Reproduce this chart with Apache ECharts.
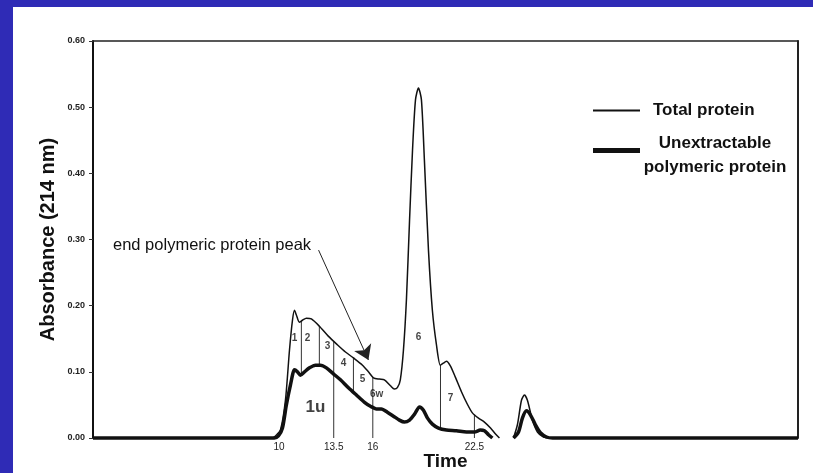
<!DOCTYPE html>
<html>
<head>
<meta charset="utf-8">
<script src="https://cdn.jsdelivr.net/npm/echarts@6/dist/echarts.min.js"></script>
<style>
    html, body { margin: 0; padding: 0; background: #2f2bb6; }
    #main { position: absolute; left: 13px; top: 7px; width: 800px; height: 466px; background: #ffffff; }
</style>
</head>
<body>
<div id="main"></div>
<script>
// total protein trace (thin line), null = break in the trace
var totalTime = [-1.9, 9.58, 9.77, 10.09, 10.41, 10.67, 10.86, 10.99, 11.11, 11.30, 11.50, 11.75, 12.07, 12.58, 13.15, 13.73, 14.25, 14.76, 15.34, 15.72, 16.04, 16.42, 16.74, 17.13, 17.38, 17.57, 17.76, 17.96, 18.15, 18.35, 18.54, 18.73, 18.92, 19.11, 19.30, 19.56, 19.81, 20.07, 20.32, 20.51, 20.71, 20.96, 21.28, 21.67, 22.05, 22.37, 22.76, 23.14, 23.53, 23.85, 24.10, 24.5, 25.00, 25.25, 25.51, 25.70, 25.89, 26.21, 26.53, 26.92, 27.37, 43.2];
var totalAbs = [0, 0, 0.003, 0.012, 0.057, 0.133, 0.178, 0.193, 0.186, 0.175, 0.178, 0.181, 0.180, 0.169, 0.154, 0.141, 0.130, 0.121, 0.110, 0.100, 0.091, 0.089, 0.088, 0.079, 0.074, 0.076, 0.088, 0.133, 0.209, 0.329, 0.435, 0.511, 0.529, 0.511, 0.420, 0.284, 0.193, 0.141, 0.110, 0.113, 0.116, 0.109, 0.092, 0.070, 0.051, 0.038, 0.030, 0.024, 0.015, 0.006, 0, null, 0, 0.020, 0.057, 0.065, 0.057, 0.027, 0.009, 0.0015, 0, 0];

// unextractable polymeric protein trace (thick line)
var polyTime = [-1.9, 9.7, 9.96, 10.22, 10.47, 10.73, 10.99, 11.18, 11.37, 11.63, 11.95, 12.33, 12.65, 13.03, 13.48, 13.93, 14.44, 14.95, 15.47, 15.85, 16.23, 16.55, 16.93, 17.32, 17.70, 18.02, 18.35, 18.67, 18.99, 19.24, 19.50, 19.81, 20.20, 20.71, 21.35, 21.99, 22.50, 22.88, 23.14, 23.40, 23.65, 24.5, 25.0, 25.32, 25.57, 25.83, 26.08, 26.40, 26.72, 27.11, 27.5, 43.2];
var polyAbs = [0, 0, 0.003, 0.015, 0.050, 0.080, 0.103, 0.100, 0.095, 0.100, 0.106, 0.110, 0.110, 0.106, 0.097, 0.088, 0.076, 0.065, 0.054, 0.048, 0.044, 0.044, 0.039, 0.033, 0.027, 0.024, 0.027, 0.036, 0.047, 0.042, 0.030, 0.021, 0.015, 0.012, 0.011, 0.009, 0.009, 0.012, 0.011, 0.005, 0, null, 0, 0.009, 0.030, 0.041, 0.035, 0.020, 0.008, 0.0015, 0, 0];

// fraction dividers
var dividerTime = [11.43, 12.58, 13.5, 14.76, 16, 20.33, 22.5];
var dividerTop = [0.177, 0.169, 0.146, 0.121, 0.092, 0.110, 0.035];
var dividerBottom = [0.096, 0.110, 0, 0.069, 0, 0.014, 0];

// fraction names
var peakNames = ["1", "2", "3", "4", "5", "6w", "1u", "6", "7"];
var peakTime = [11.0, 11.82, 13.1, 14.12, 15.34, 16.24, 12.33, 18.92, 20.97];
var peakAbs = [0.151, 0.151, 0.138, 0.113, 0.089, 0.066, 0.047, 0.153, 0.060];

var xTickValues = [10, 13.5, 16, 22.5];
var yMin = 0, yMax = 0.6, yStep = 0.1;
var xMin = -1.9, xMax = 43.2;

// arrow "end polymeric protein peak"
var arrowFrom = [12.53, 0.284];
var arrowTo = [15.72, 0.118];

chart();

function zip(a, b) {
    var out = [];
    for (var i = 0; i < a.length; i++) {
        out.push([a[i], b[i]]);
    }
    return out;
}

function chart() {
    var myChart = echarts.init(document.getElementById("main"));
    var font = 'Arial, "Liberation Sans", sans-serif';

    var dividers = [];
    for (var i = 0; i < dividerTime.length; i++) {
        dividers.push([dividerTime[i], dividerTop[i], dividerBottom[i]]);
    }

    var peaks = [];
    for (var j = 0; j < peakNames.length; j++) {
        var item = { name: peakNames[j], value: [peakTime[j], peakAbs[j]] };
        if (peakNames[j] === "1u") {
            item.label = { fontSize: 17, fontWeight: "bold" };
        }
        peaks.push(item);
    }

    var option = {
        animation: false,
        textStyle: { fontFamily: font },
        grid: { left: 80, top: 34, right: 15, bottom: 35, containLabel: false, outerBoundsMode: "none" },
        legend: [
            {
                data: ["Total protein"],
                left: 580,
                top: 95,
                padding: 0,
                icon: "rect",
                itemWidth: 47,
                itemHeight: 2,
                formatter: "{a|{name}}",
                textStyle: {
                    color: "#111",
                    rich: { a: { fontSize: 17, fontWeight: "bold", fontFamily: font, padding: [0, 0, 0, 8] } },
                },
            },
            {
                data: ["Unextractable polymeric protein"],
                left: 580,
                top: 128,
                padding: 0,
                icon: "rect",
                itemWidth: 47,
                itemHeight: 5,
                formatter: "{a|Unextractable}\n{a|polymeric protein}",
                textStyle: {
                    color: "#111",
                    padding: [10, 0, 0, 0],
                    rich: { a: { fontSize: 17, fontWeight: "bold", fontFamily: font, width: 140, align: "center", lineHeight: 24 } },
                },
            },
        ],
        xAxis: [
            {
                type: "value",
                min: xMin,
                max: xMax,
                name: "Time",
                nameLocation: "middle",
                nameGap: 14,
                nameMoveOverlap: false,
                nameTextStyle: { fontSize: 19, fontWeight: "bold", color: "#111" },
                axisLine: { show: false },
                axisTick: { show: false },
                splitLine: { show: false },
                axisLabel: {
                    customValues: xTickValues,
                    margin: 4,
                    fontSize: 10,
                    color: "#222",
                },
            },
            {
                type: "value",
                position: "top",
                min: xMin,
                max: xMax,
                axisLine: { show: true, onZero: false, lineStyle: { color: "#222", width: 1.5 } },
                axisTick: { show: false },
                axisLabel: { show: false },
                splitLine: { show: false },
            },
        ],
        yAxis: [
            {
                type: "value",
                min: yMin,
                max: yMax,
                interval: yStep,
                name: "Absorbance (214 nm)",
                nameLocation: "middle",
                nameGap: 35,
                nameMoveOverlap: false,
                nameTextStyle: { fontSize: 20, fontWeight: "bold", color: "#111" },
                axisLine: { show: true, onZero: false, lineStyle: { color: "#111", width: 2 } },
                axisTick: { show: true, length: 4, lineStyle: { color: "#333", width: 1 } },
                splitLine: { show: false },
                axisLabel: {
                    margin: 8,
                    fontSize: 9,
                    fontWeight: "bold",
                    color: "#222",
                    formatter: function (v) {
                        return v.toFixed(2);
                    },
                },
            },
            {
                type: "value",
                position: "right",
                min: yMin,
                max: yMax,
                axisLine: { show: true, onZero: false, lineStyle: { color: "#222", width: 2 } },
                axisTick: { show: false },
                axisLabel: { show: false },
                splitLine: { show: false },
            },
        ],
        series: [
            {
                name: "Total protein",
                type: "line",
                data: zip(totalTime, totalAbs),
                symbol: "none",
                smooth: 0.25,
                clip: false,
                connectNulls: false,
                color: "#111",
                lineStyle: { color: "#111", width: 1.5 },
                markLine: {
                    silent: true,
                    symbol: ["none", "arrow"],
                    symbolSize: 14,
                    label: { show: false },
                    lineStyle: { color: "#222", width: 1, type: "solid" },
                    data: [[{ coord: arrowFrom }, { coord: arrowTo }]],
                },
            },
            {
                name: "Unextractable polymeric protein",
                type: "line",
                data: zip(polyTime, polyAbs),
                symbol: "none",
                smooth: 0.25,
                clip: false,
                connectNulls: false,
                color: "#111",
                lineStyle: { color: "#111", width: 3.5 },
            },
            {
                name: "dividers",
                type: "custom",
                data: dividers,
                silent: true,
                renderItem: function (params, api) {
                    var p1 = api.coord([api.value(0), api.value(1)]);
                    var p2 = api.coord([api.value(0), api.value(2)]);
                    return {
                        type: "line",
                        shape: { x1: p1[0], y1: p1[1], x2: p2[0], y2: p2[1] },
                        style: { stroke: "#333", lineWidth: 1 },
                    };
                },
            },
            {
                name: "fractions",
                type: "scatter",
                data: peaks,
                symbolSize: 0,
                silent: true,
                label: {
                    show: true,
                    position: "inside",
                    formatter: "{b}",
                    fontSize: 10,
                    fontWeight: "bold",
                    color: "#111",
                },
            },
        ],
        graphic: [
            {
                type: "text",
                left: 100,
                top: 230,
                style: {
                    text: "end polymeric protein peak",
                    font: "16.5px " + font,
                    fill: "#111",
                },
            },
        ],
    };

    myChart.setOption(option);
    window.addEventListener("resize", function () {
        myChart.resize();
    });
}
</script>
</body>
</html>
